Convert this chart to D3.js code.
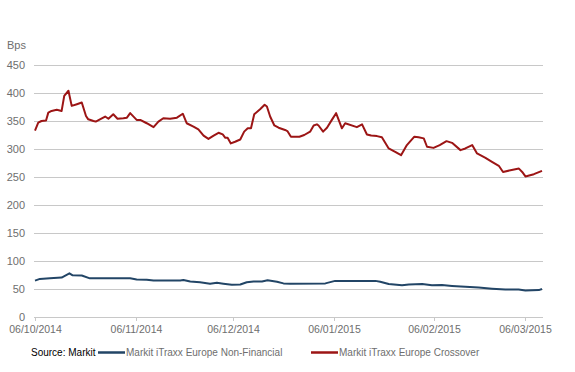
<!DOCTYPE html>
<html lang="en">
<head>
  <meta charset="utf-8"/>
  <script src="https://d3js.org/d3.v7.min.js"></script>
  <style>
    body { margin: 0; background: #fff; }
    svg { display: block; font-family: "Liberation Sans", Arial, sans-serif; }
    .grid line { stroke: #c8c8c8; stroke-width: 1px; }
    .ylab, .xlab, .unit { fill: #6e6e6e; }
    .legend text { fill: #6e6e6e; font-size: 10px; }
  </style>
</head>
<body>
<div id="chart"></div>
<script>
  // Series start date; x values are days after it
  const startDate = new Date(2014, 9, 6);

  const crossoverDays = [0, 1, 2, 3.4, 4.1, 5.1, 6.7, 8.2, 9, 10.3, 11.3, 12.9, 14.4, 15.7, 16.4, 18, 18.7,
    20, 21.6, 22.6, 24.1, 25.4, 27.2, 28.3, 29.3, 31.3, 32.4, 34.4, 36.5, 38, 39.5, 41.6, 43.7, 45.5,
    46.7, 48.8, 50.3, 51.9, 53.4, 55, 56.5, 57.8, 58.6, 59.3, 60.3, 61.6, 63.2, 64.4, 65.5, 66.5,
    67.5, 69.3, 70.7, 71.4, 72.4, 73.7, 75, 77, 77.7, 78.8, 81.4, 82.9, 84.7, 85.8, 86.8, 87.3,
    88.7, 89.9, 91.4, 92.7, 93.5, 94.5, 95.5, 99.1, 100.7, 102.2, 103.5, 105.3, 106.8, 108.9,
    110.9, 112.7, 114.5, 116.8, 118.1, 119.7, 120.7, 122.7, 124.6, 126.7, 128.4, 131, 132.5,
    134.6, 136.1, 138.7, 140.7, 142.8, 144.1, 146.4, 149, 150, 151, 153.6, 156.1];
  const crossoverBps = [333, 347, 350, 351, 365, 368, 370, 368, 395, 404, 377, 380, 383, 359, 353, 350, 349,
    353, 358, 354, 362, 354, 355, 356, 364, 352, 352, 346, 339, 349, 355, 354, 356, 363,
    346, 340, 335, 324, 318, 324, 329, 326, 320, 320, 310, 313, 317, 331, 337, 337,
    362, 371, 379, 376, 358, 342, 338, 334, 332, 322, 322, 325, 331, 342, 344, 342,
    331, 338, 352, 364, 352, 337, 346, 339, 344, 326, 324, 323, 321, 301,
    295, 289, 307, 322, 321, 319, 304, 302, 307, 314, 311, 298, 301,
    307, 292, 284, 277, 270, 259, 262, 265, 259, 251, 255, 261];

  const nonFinDays = [0, 1.5, 4.6, 8.2, 10.6, 11.6, 14.4, 16.9, 29.3, 31.3, 34.4, 36.5, 44.7, 45.7,
    47.8, 50.8, 53.9, 56, 58, 60.6, 63.2, 65.2, 67.3, 69.9, 71.6, 74.5, 76.5, 78.6, 89.4, 92.4,
    104.8, 106.3, 108.9, 113, 115.1, 119.2, 122.2, 125.3, 128.4, 132.5, 136.6, 140.7, 144.8,
    148.9, 151, 155.1, 156.1];
  const nonFinBps = [65, 68, 69, 70.5, 78, 74.5, 74, 69, 69, 67, 66.5, 65, 65, 66,
    63.5, 62, 59.5, 61, 59.5, 57.5, 58, 62, 63.5, 63.5, 65.5, 63, 60, 59.5, 60, 64.5,
    64.5, 63, 59, 56.5, 58, 59, 56.5, 57, 55.5, 54, 52.5, 50.5, 49,
    49, 47.5, 48, 50];

  const yTicks = [0, 50, 100, 150, 200, 250, 300, 350, 400, 450];
  const xTickDates = ["06/10/2014", "06/11/2014", "06/12/2014", "06/01/2015", "06/02/2015", "06/03/2015"];
  const seriesNames = ["Markit iTraxx Europe Non-Financial", "Markit iTraxx Europe Crossover"];
  const seriesColors = ["#224566", "#9c1515"];

  const width = 575, height = 372;
  const dayMs = 86400000;
  const toDate = d => new Date(startDate.getTime() + d * dayMs);
  const parse = d3.timeParse("%d/%m/%Y");

  const x = d3.scaleTime()
    .domain([startDate, toDate(156.1)])
    .range([35, 542]);
  const y = d3.scaleLinear().domain([0, 450]).range([317, 65]);

  const svg = d3.select("#chart").append("svg")
    .attr("width", width).attr("height", height);

  // horizontal gridlines
  svg.append("g").attr("class", "grid")
    .selectAll("line").data(yTicks).enter().append("line")
    .attr("x1", 34).attr("x2", 543)
    .attr("y1", d => Math.round(y(d)) + 0.5).attr("y2", d => Math.round(y(d)) + 0.5);

  svg.append("g").selectAll("text").data(yTicks).enter().append("text")
    .attr("class", "ylab")
    .attr("x", 25).attr("y", d => y(d) + 4)
    .attr("text-anchor", "end").attr("font-size", "11px")
    .text(d => d);

  svg.append("text").attr("class", "unit")
    .attr("x", 7).attr("y", 49).attr("font-size", "11px").text("Bps");

  // x ticks
  const xt = svg.append("g").selectAll("g").data(xTickDates).enter().append("g")
    .attr("transform", d => `translate(${Math.round(x(parse(d))) + 0.5},0)`);
  xt.append("line").attr("y1", 317).attr("y2", 321).attr("stroke", "#c8c8c8");
  xt.append("text").attr("class", "xlab")
    .attr("y", 333).attr("text-anchor", "middle").attr("font-size", "10.5px")
    .text(d => d);

  const line = d3.line()
    .x(d => x(toDate(d[0])))
    .y(d => y(d[1]));

  const series = [
    d3.zip(nonFinDays, nonFinBps),
    d3.zip(crossoverDays, crossoverBps)
  ];

  svg.append("g").selectAll("path").data(series).enter().append("path")
    .attr("d", line)
    .attr("fill", "none")
    .attr("stroke", (d, i) => seriesColors[i])
    .attr("stroke-width", 2)
    .attr("stroke-linejoin", "round");

  // legend
  const legend = svg.append("g").attr("class", "legend");
  legend.append("text").attr("x", 31).attr("y", 356).style("fill", "#000").text("Source: Markit");
  const legendX = [98, 311];
  const item = legend.selectAll("g.item").data(seriesNames).enter().append("g")
    .attr("class", "item")
    .attr("transform", (d, i) => `translate(${legendX[i]},0)`);
  item.append("line").attr("x1", 0).attr("x2", 27).attr("y1", 352.5).attr("y2", 352.5)
    .attr("stroke", (d, i) => seriesColors[i]).attr("stroke-width", 2.5);
  item.append("text").attr("x", 28).attr("y", 356).text(d => d);
</script>
</body>
</html>
